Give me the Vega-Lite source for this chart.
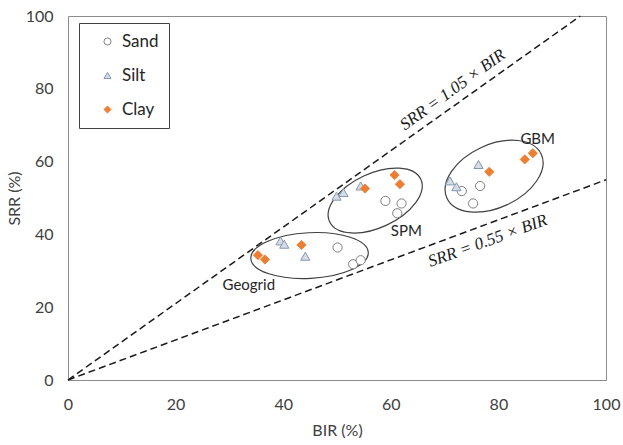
{
  "$schema": "https://vega.github.io/schema/vega-lite/v6.json",
  "width": 538,
  "height": 364,
  "autosize": "none",
  "padding": {"left": 68, "top": 16, "right": 17, "bottom": 65},
  "background": "white",
  "config": {
    "view": {"stroke": "#8c8c8c", "strokeWidth": 1},
    "font": "Lato",
    "axis": {"grid": false, "ticks": false, "domain": false, "labelFlush": false, "labelFontSize": 16, "titleFontSize": 16, "titleFontWeight": "normal", "labelColor": "#404040", "titleColor": "#404040", "labelFont": "Lato", "titleFont": "Lato"},
    "legend": {"orient": "none", "legendX": 11, "legendY": 7, "strokeColor": "#404040", "fillColor": "white", "padding": 10, "labelFont": "Lato", "labelFontSize": 17, "labelColor": "#262626", "symbolSize": 50, "symbolStrokeWidth": 1, "symbolOffset": 10, "labelOffset": 6, "rowPadding": 16}
  },
  "datasets": {
    "lines": [
      {"line": "upper", "BIR": 0, "SRR": 0},
      {"line": "upper", "BIR": 95.24, "SRR": 100},
      {"line": "lower", "BIR": 0, "SRR": 0},
      {"line": "lower", "BIR": 100, "SRR": 55}
    ],
    "ellipses": [
      {"group": "Geogrid", "BIR": 44.9, "SRR": 34.2},
      {"group": "SPM", "BIR": 57.1, "SRR": 49.3},
      {"group": "GBM", "BIR": 79.2, "SRR": 56.0}
    ],
    "points": [
      {"type": "Sand", "BIR": 50.1, "SRR": 36.4},
      {"type": "Sand", "BIR": 53.0, "SRR": 31.8},
      {"type": "Sand", "BIR": 54.4, "SRR": 32.9},
      {"type": "Sand", "BIR": 59.0, "SRR": 49.2},
      {"type": "Sand", "BIR": 62.0, "SRR": 48.5},
      {"type": "Sand", "BIR": 61.2, "SRR": 45.8},
      {"type": "Sand", "BIR": 73.2, "SRR": 51.9},
      {"type": "Sand", "BIR": 76.6, "SRR": 53.3},
      {"type": "Sand", "BIR": 75.3, "SRR": 48.5},
      {"type": "Silt", "BIR": 39.5, "SRR": 38.2},
      {"type": "Silt", "BIR": 40.2, "SRR": 37.3},
      {"type": "Silt", "BIR": 44.1, "SRR": 34.0},
      {"type": "Silt", "BIR": 49.9, "SRR": 50.5},
      {"type": "Silt", "BIR": 51.2, "SRR": 51.5},
      {"type": "Silt", "BIR": 54.4, "SRR": 53.3},
      {"type": "Silt", "BIR": 71.0, "SRR": 54.7},
      {"type": "Silt", "BIR": 72.2, "SRR": 53.1},
      {"type": "Silt", "BIR": 76.3, "SRR": 59.2},
      {"type": "Clay", "BIR": 35.3, "SRR": 34.3},
      {"type": "Clay", "BIR": 36.6, "SRR": 33.1},
      {"type": "Clay", "BIR": 43.4, "SRR": 37.1},
      {"type": "Clay", "BIR": 55.2, "SRR": 52.6},
      {"type": "Clay", "BIR": 60.7, "SRR": 56.3},
      {"type": "Clay", "BIR": 61.7, "SRR": 53.8},
      {"type": "Clay", "BIR": 78.3, "SRR": 57.2},
      {"type": "Clay", "BIR": 84.9, "SRR": 60.6},
      {"type": "Clay", "BIR": 86.4, "SRR": 62.3}
    ],
    "labels": [
      {"label": "Geogrid", "BIR": 33.6, "SRR": 26.0},
      {"label": "SPM", "BIR": 62.9, "SRR": 41.0},
      {"label": "GBM", "BIR": 87.3, "SRR": 66.3}
    ],
    "equations": [
      {"eq": "upper", "label": "SRR = 1.05 × BIR", "BIR": 71.5, "SRR": 79.7},
      {"eq": "lower", "label": "SRR = 0.55 × BIR", "BIR": 78.0, "SRR": 38.2}
    ]
  },
  "encoding": {
    "x": {"field": "BIR", "type": "quantitative", "scale": {"domain": [0, 100], "nice": false}, "axis": {"values": [0, 20, 40, 60, 80, 100], "title": "BIR (%)", "labelPadding": 16, "titlePadding": 10}},
    "y": {"field": "SRR", "type": "quantitative", "scale": {"domain": [0, 100], "nice": false}, "axis": {"values": [0, 20, 40, 60, 80, 100], "title": "SRR (%)", "labelPadding": 15, "titlePadding": 3}}
  },
  "layer": [
    {
      "data": {"name": "lines"},
      "mark": {"type": "line", "color": "#1a1a1a", "strokeWidth": 1.5, "strokeDash": [7, 4]},
      "encoding": {"detail": {"field": "line"}}
    },
    {
      "data": {"name": "ellipses"},
      "transform": [{"filter": "datum.group === 'Geogrid'"}],
      "mark": {"type": "point", "shape": "M -1 0 A 1 0.388 0 1 1 1 0 A 1 0.388 0 1 1 -1 0 Z", "size": 13830, "angle": 357, "filled": true, "fill": "white", "fillOpacity": 0.85, "stroke": "#404040", "strokeWidth": 1.2, "opacity": 1},
      "encoding": {}
    },
    {
      "data": {"name": "ellipses"},
      "transform": [{"filter": "datum.group === 'SPM'"}],
      "mark": {"type": "point", "shape": "M -1 0 A 1 0.539 0 1 1 1 0 A 1 0.539 0 1 1 -1 0 Z", "size": 10120, "angle": 335, "filled": true, "fill": "white", "fillOpacity": 0.85, "stroke": "#404040", "strokeWidth": 1.2, "opacity": 1},
      "encoding": {}
    },
    {
      "data": {"name": "ellipses"},
      "transform": [{"filter": "datum.group === 'GBM'"}],
      "mark": {"type": "point", "shape": "M -1 0 A 1 0.604 0 1 1 1 0 A 1 0.604 0 1 1 -1 0 Z", "size": 10816, "angle": 335, "filled": true, "fill": "white", "fillOpacity": 0.85, "stroke": "#404040", "strokeWidth": 1.2, "opacity": 1},
      "encoding": {}
    },
    {
      "data": {"name": "points"},
      "mark": {"type": "point", "filled": true, "size": 85, "strokeWidth": 1, "opacity": 1},
      "encoding": {
        "shape": {"field": "type", "type": "nominal", "scale": {"domain": ["Sand", "Silt", "Clay"], "range": ["circle", "triangle-up", "diamond"]}, "legend": {"title": null}},
        "fill": {"field": "type", "type": "nominal", "scale": {"domain": ["Sand", "Silt", "Clay"], "range": ["#ffffff", "#d6dce5", "#ed7d31"]}, "legend": {"title": null}},
        "stroke": {"field": "type", "type": "nominal", "scale": {"domain": ["Sand", "Silt", "Clay"], "range": ["#7f7f7f", "#8497b0", "#f0883e"]}, "legend": {"title": null}}
      }
    },
    {
      "data": {"name": "labels"},
      "mark": {"type": "text", "font": "Lato", "fontSize": 15, "color": "#262626"},
      "encoding": {"text": {"field": "label"}}
    },
    {
      "data": {"name": "equations"},
      "transform": [{"filter": "datum.eq === 'upper'"}],
      "mark": {"type": "text", "font": "Liberation Serif", "fontStyle": "italic", "fontSize": 17, "angle": 324, "color": "#1a1a1a"},
      "encoding": {"text": {"field": "label"}}
    },
    {
      "data": {"name": "equations"},
      "transform": [{"filter": "datum.eq === 'lower'"}],
      "mark": {"type": "text", "font": "Liberation Serif", "fontStyle": "italic", "fontSize": 17, "angle": 340, "color": "#1a1a1a"},
      "encoding": {"text": {"field": "label"}}
    }
  ]
}
